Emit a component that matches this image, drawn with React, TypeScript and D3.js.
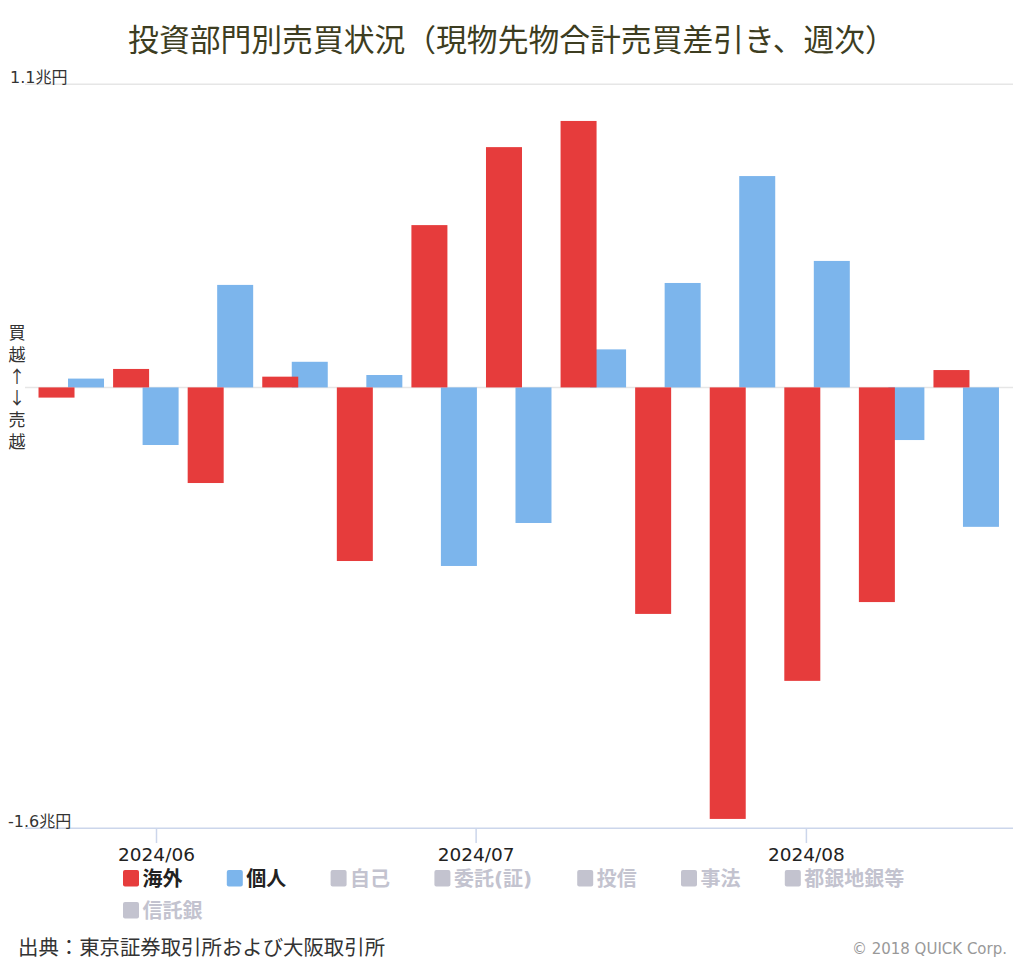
import React from "react";
import * as d3 from "d3";

// ---- data ----
const weeks: string[] = [
  "2024-05-24", "2024-05-31", "2024-06-07", "2024-06-14", "2024-06-21", "2024-06-28",
  "2024-07-05", "2024-07-12", "2024-07-19", "2024-07-26", "2024-08-02", "2024-08-09", "2024-08-16",
];
const overseas: number[] = [
  -0.037, 0.067, -0.347, 0.039, -0.630, 0.589, 0.872, 0.967, -0.822, -1.566, -1.065, -0.779, 0.063,
];
const individuals: number[] = [
  0.032, -0.209, 0.372, 0.093, 0.045, -0.648, -0.492, 0.138, 0.379, 0.767, 0.459, -0.191, -0.506,
];
const yTickValues: number[] = [1.1, -1.6];
const yUnit = "兆円";
const legendItems: { name: string; active: boolean }[] = [
  { name: "海外", active: true },
  { name: "個人", active: true },
  { name: "自己", active: false },
  { name: "委託(証)", active: false },
  { name: "投信", active: false },
  { name: "事法", active: false },
  { name: "都銀地銀等", active: false },
  { name: "信託銀", active: false },
];
const sideLabel = "買越↑↓売越";
const title = "投資部門別売買状況（現物先物合計売買差引き、週次）";
const sourceText = "出典：東京証券取引所および大阪取引所";
const creditText = "© 2018 QUICK Corp.";

// ---- styles ----
const W = 1024;
const H = 964;
const plotLeft = 25;
const plotRight = 1013;
const RED = "#e63c3c";
const BLUE = "#7cb5ec";
const GREY = "#c3c3cf";
const seriesColors = [RED, BLUE];
const FONT = "'DejaVu Sans', 'Noto Sans CJK JP', sans-serif";
const CJK = "'Noto Sans CJK JP', sans-serif";

const parse = (s: string) => {
  const [y, m, d] = s.split("-").map(Number);
  return new Date(Date.UTC(y, m - 1, d));
};

export default function App() {
  const x = d3
    .scaleUtc()
    .domain([new Date(Date.UTC(2024, 5, 1)), new Date(Date.UTC(2024, 7, 1))])
    .range([156.5, 806.4]);
  const y = d3.scaleLinear().domain([-1.6, 1.1]).range([828.3, 84.3]);
  const y0 = y(0);
  const barW = 36;
  const redOff = -32.75;
  const blueOff = -3.25;

  const monthTicks = d3.utcMonth
    .range(new Date(Date.UTC(2024, 4, 20)), new Date(Date.UTC(2024, 7, 21)))
    .filter((d) => x(d) >= plotLeft && x(d) <= plotRight);
  const fmt = d3.utcFormat("%Y/%m");

  // legend layout
  const charW = (s: string) =>
    Array.from(s).reduce((acc, c) => acc + (c.charCodeAt(0) < 256 ? 9.5 : 20), 0);
  let lx = 123;
  let ly = 870;
  const legendPos = legendItems.map((it) => {
    const w = 19.5 + charW(it.name);
    if (lx + w > 1000) {
      lx = 123;
      ly += 32;
    }
    const p = { ...it, x: lx, y: ly };
    lx += w + 44.3;
    return p;
  });

  const bars = (vals: number[], off: number, color: string) =>
    vals.map((v, i) => {
      const cx = x(parse(weeks[i]));
      return (
        <rect
          key={i}
          x={cx + off}
          y={Math.min(y(v), y0)}
          width={barW}
          height={Math.abs(y(v) - y0)}
          fill={color}
        />
      );
    });

  return (
    <svg
      width={W}
      height={H}
      style={{ position: "absolute", left: 0, top: 0, background: "#fff" }}
    >
      <text x={512} y={51} textAnchor="middle" fontSize={30.8} fill="#3d3d21" fontFamily={CJK}>
        {title}
      </text>

      {/* grid lines */}
      <line x1={plotLeft} x2={plotRight} y1={y(1.1)} y2={y(1.1)} stroke="#e6e6e6" strokeWidth={1.5} />
      <line x1={plotLeft} x2={plotRight} y1={y0} y2={y0} stroke="#e6e6e6" strokeWidth={1.5} />

      {/* bars: blue behind, red on top */}
      {bars(individuals, blueOff, BLUE)}
      {bars(overseas, redOff, RED)}

      {/* x axis */}
      <line x1={plotLeft} x2={plotRight} y1={y(-1.6)} y2={y(-1.6)} stroke="#ccd6eb" strokeWidth={1.5} />
      {monthTicks.map((d, i) => (
        <g key={i}>
          <line x1={x(d)} x2={x(d)} y1={y(-1.6)} y2={843} stroke="#ccd6eb" strokeWidth={1.5} />
          <text x={x(d)} y={861} textAnchor="middle" fontSize={18.5} fill="#222" fontFamily={FONT}>
            {fmt(d)}
          </text>
        </g>
      ))}

      {/* y labels */}
      {yTickValues.map((v, i) => (
        <text key={i} x={v < 0 ? 8 : 10} y={y(v) - 1} fontSize={16} fill="#333" fontFamily={FONT}>
          {v.toFixed(1) + yUnit}
        </text>
      ))}
      <text
        x={17}
        y={324}
        fontSize={17}
        fill="#333"
        fontFamily={CJK}
        letterSpacing={4.8}
        style={{ writingMode: "vertical-rl", textOrientation: "upright" } as any}
      >
        {sideLabel}
      </text>

      {/* legend */}
      {legendPos.map((it, i) => {
        const col = it.active ? seriesColors[i] : GREY;
        return (
          <g key={i}>
            <rect x={it.x} y={it.y} width={16} height={16.5} rx={2} fill={col} />
            <text
              x={it.x + 19.5}
              y={it.y + 15.5}
              fontSize={20}
              fontWeight="bold"
              fill={it.active ? "#222" : GREY}
              fontFamily={FONT}
            >
              {it.name}
            </text>
          </g>
        );
      })}

      {/* footer */}
      <text x={18} y={955} fontSize={20.4} fill="#333" fontFamily={CJK}>
        {sourceText}
      </text>
      <text x={1007} y={954} textAnchor="end" fontSize={15} fill="#999" fontFamily={FONT}>
        {creditText}
      </text>
    </svg>
  );
}
